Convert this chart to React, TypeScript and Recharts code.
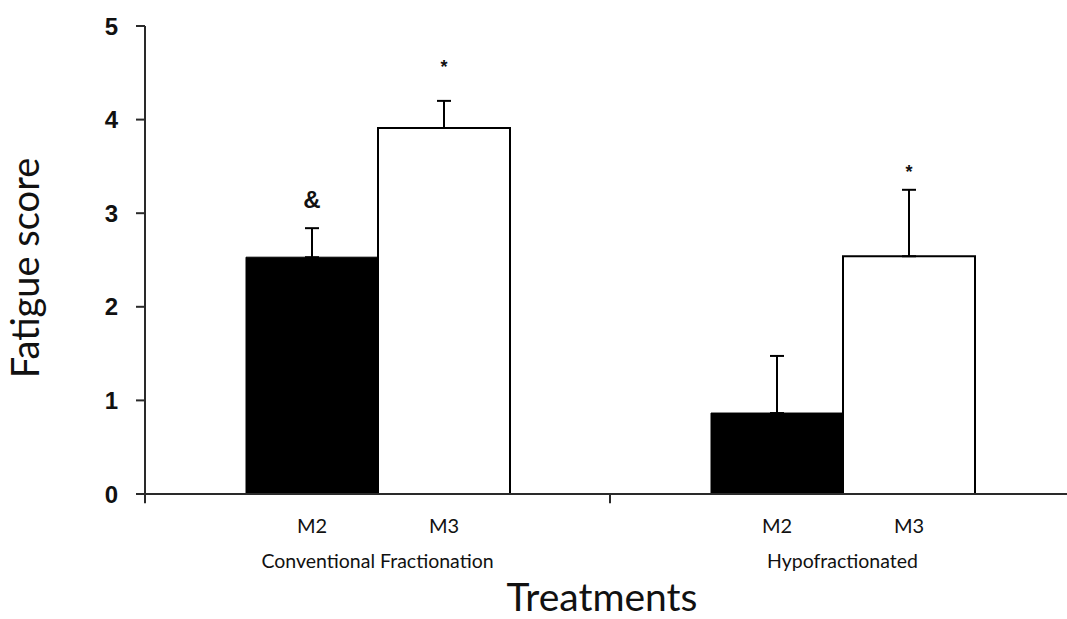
import {
    BarChart,
    Bar,
    XAxis,
    YAxis,
    ErrorBar,
    LabelList,
    ReferenceLine,
} from 'recharts';

// values
const groups = ['Conventional Fractionation', 'Hypofractionated'];
const seriesNames = ['M2', 'M3'];
const m2Scores = [2.53, 0.865];
const m3Scores = [3.91, 2.54];
const m2Errors = [0.31, 0.61];
const m3Errors = [0.29, 0.71];
// significance marks and the score level where their baseline sits
const m2Marks = ['&', ''];
const m3Marks = ['*', '*'];
const m2MarkAt = [3.06, 0];
const m3MarkAt = [4.5, 3.38];
const yTicks = [0, 1, 2, 3, 4, 5];

const chartData = groups.map((group, i) => ({
    group,
    m2: m2Scores[i],
    m3: m3Scores[i],
    m2Err: [0, m2Errors[i]],
    m3Err: [0, m3Errors[i]],
    m2Mark: m2Marks[i],
    m3Mark: m3Marks[i],
    m2Name: seriesNames[0],
    m3Name: seriesNames[1],
}));

const AXIS = '#2a2a2a';
const LABEL_FONT = 'Lato, "Noto Sans", sans-serif';
const BOLD_FONT = '"Liberation Sans", Arial, sans-serif';

function boxOf(props: any) {
    const vb = props.viewBox ?? props;
    return { x: Number(vb.x), y: Number(vb.y), width: Number(vb.width), height: Number(vb.height) };
}

// marks sit above the error bars; convert their score level to pixels using the bar's own scale
function markRenderer(scores: number[], markAt: number[]) {
    return (props: any) => {
        const { index, value } = props;
        if (!value) return null;
        const b = boxOf(props);
        const pxPerUnit = b.height / scores[index];
        const baseY = b.y + b.height - markAt[index] * pxPerUnit;
        return (
            <text
                x={b.x + b.width / 2}
                y={baseY}
                textAnchor="middle"
                fontFamily={BOLD_FONT}
                fontWeight="bold"
                fontSize={value === '&' ? 24 : 18}
                fill="#111"
            >
                {value}
            </text>
        );
    };
}

function seriesLabel(props: any) {
    const b = boxOf(props);
    return (
        <text
            x={b.x + b.width / 2}
            y={b.y + b.height + 39}
            textAnchor="middle"
            fontFamily={LABEL_FONT}
            fontSize={20}
            fill="#111"
        >
            {props.value}
        </text>
    );
}

function GroupTick({ x, y, payload }: any) {
    return (
        <text x={x} y={y} dy={66} textAnchor="middle" fontFamily={LABEL_FONT} fontSize={19.5} fill="#111">
            {payload.value}
        </text>
    );
}

function App() {
    return (
        <div>
            <style>{`body{margin:0;overflow:hidden;background:#fff}`}</style>
            <BarChart
                width={1075}
                height={619}
                data={chartData}
                margin={{ top: 26, right: 0, left: 0, bottom: 0 }}
                barGap={0}
                barSize={132}
            >
                <XAxis
                    dataKey="group"
                    height={125}
                    axisLine={{ stroke: AXIS, strokeWidth: 2 }}
                    tickLine={false}
                    tickMargin={2}
                    tickSize={6}
                    tick={<GroupTick />}
                    label={{
                        value: 'Treatments',
                        position: 'insideBottom',
                        offset: 8,
                        dx: -8,
                        fontSize: 39,
                        fontFamily: LABEL_FONT,
                        fill: '#111',
                    }}
                />
                <YAxis
                    width={145}
                    domain={[0, 5]}
                    ticks={yTicks}
                    axisLine={{ stroke: AXIS, strokeWidth: 2 }}
                    tickLine={{ stroke: AXIS, strokeWidth: 2 }}
                    tickSize={9}
                    tickMargin={18}
                    tick={{ fontFamily: BOLD_FONT, fontWeight: 'bold', fontSize: 24, fill: '#111' }}
                    label={{
                        value: 'Fatigue score',
                        angle: -90,
                        position: 'center',
                        dx: -47,
                        dy: 8,
                        fontSize: 38,
                        fontFamily: LABEL_FONT,
                        fill: '#111',
                    }}
                />
                {groups.map((g) => (
                    <ReferenceLine
                        key={g}
                        segment={[{ x: g, y: 0 }, { x: g, y: -0.1 }]}
                        position="start"
                        ifOverflow="visible"
                        stroke={AXIS}
                        strokeWidth={2}
                    />
                ))}
                <Bar dataKey="m2" fill="#000" stroke="#000" strokeWidth={1} isAnimationActive={false}>
                    <ErrorBar dataKey="m2Err" width={7} stroke="#000" strokeWidth={2} isAnimationActive={false} />
                    <LabelList dataKey="m2Mark" content={markRenderer(m2Scores, m2MarkAt)} />
                    <LabelList dataKey="m2Name" content={seriesLabel} />
                </Bar>
                <Bar dataKey="m3" fill="#fff" stroke="#000" strokeWidth={2} isAnimationActive={false}>
                    <ErrorBar dataKey="m3Err" width={7} stroke="#000" strokeWidth={2} isAnimationActive={false} />
                    <LabelList dataKey="m3Mark" content={markRenderer(m3Scores, m3MarkAt)} />
                    <LabelList dataKey="m3Name" content={seriesLabel} />
                </Bar>
            </BarChart>
        </div>
    );
}

export default App;
